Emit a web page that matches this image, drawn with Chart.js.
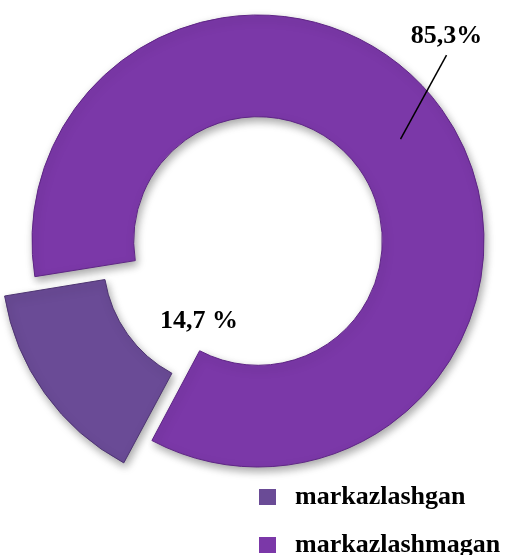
<!DOCTYPE html>
<html>
<head>
<meta charset="utf-8">
<script src="https://cdn.jsdelivr.net/npm/chart.js@4.4.1/dist/chart.umd.min.js"></script>
<style>
  html, body { margin: 0; padding: 0; background: #fff; }
  #wrap { width: 505px; height: 555px; position: relative; }
</style>
</head>
<body>
<div id="wrap"><canvas id="mychart"></canvas></div>
<script>
const labels = ["markazlashgan", "markazlashmagan"];
const values = [14.7, 85.3];
const valueLabels = ["14,7 %", "85,3%"];
const colors = ["#6a4b96", "#7b38a8"];
const borders = ["#4e3472", "#5e2585"];

const ctx = document.getElementById("mychart").getContext("2d");

// soft shadow under the ring
const shadowPlugin = {
  id: "shadow",
  beforeDatasetsDraw(chart) {
    const c = chart.ctx;
    c.save();
    c.shadowColor = "rgba(0,0,0,0.35)";
    c.shadowBlur = 8;
    c.shadowOffsetX = 2;
    c.shadowOffsetY = 4;
  },
  afterDatasetsDraw(chart) {
    chart.ctx.restore();
  },
};

// value labels and legend drawn from the data
const labelPlugin = {
  id: "labels",
  afterDraw(chart) {
    const c = chart.ctx;
    const arcs = chart.getDatasetMeta(0).data;
    c.save();
    c.fillStyle = "#000";
    c.font = "bold 26px 'Liberation Serif', 'Times New Roman', serif";
    c.textAlign = "center";
    c.textBaseline = "middle";

    // small slice label sits inside the hole
    const a0 = arcs[0];
    c.fillText(valueLabels[0], a0.x - 59, a0.y + 80);

    // big slice label with leader line
    const a1 = arcs[1];
    const p = a1.tooltipPosition();
    const ex = p.x + 46, ey = p.y - 84;
    c.strokeStyle = "#000";
    c.lineWidth = 1.5;
    c.beginPath();
    c.moveTo(p.x, p.y);
    c.lineTo(ex, ey);
    c.stroke();
    c.fillText(valueLabels[1], ex, ey - 19);

    // legend
    c.font = "bold 26px 'Liberation Serif', 'Times New Roman', serif";
    c.textAlign = "left";
    labels.forEach((lab, i) => {
      const y = 497 + i * 48;
      c.fillStyle = colors[i];
      c.fillRect(259, y - 8, 17, 16);
      c.fillStyle = "#000";
      c.fillText(lab, 295, y);
    });
    c.restore();
  },
};

new Chart(ctx, {
  type: "doughnut",
  data: {
    labels: labels,
    datasets: [
      {
        data: values,
        backgroundColor: colors,
        borderColor: borders,
        borderWidth: 1,
        offset: [120, 0],
        hoverOffset: 0,
      },
    ],
  },
  options: {
    responsive: true,
    maintainAspectRatio: false,
    animation: false,
    rotation: 208,
    radius: 226,
    cutout: "55%",
    layout: {
      padding: { top: 0, bottom: 73, left: 11, right: 0 },
    },
    plugins: {
      legend: { display: false },
      tooltip: { enabled: false },
    },
  },
  plugins: [shadowPlugin, labelPlugin],
});
</script>
</body>
</html>
